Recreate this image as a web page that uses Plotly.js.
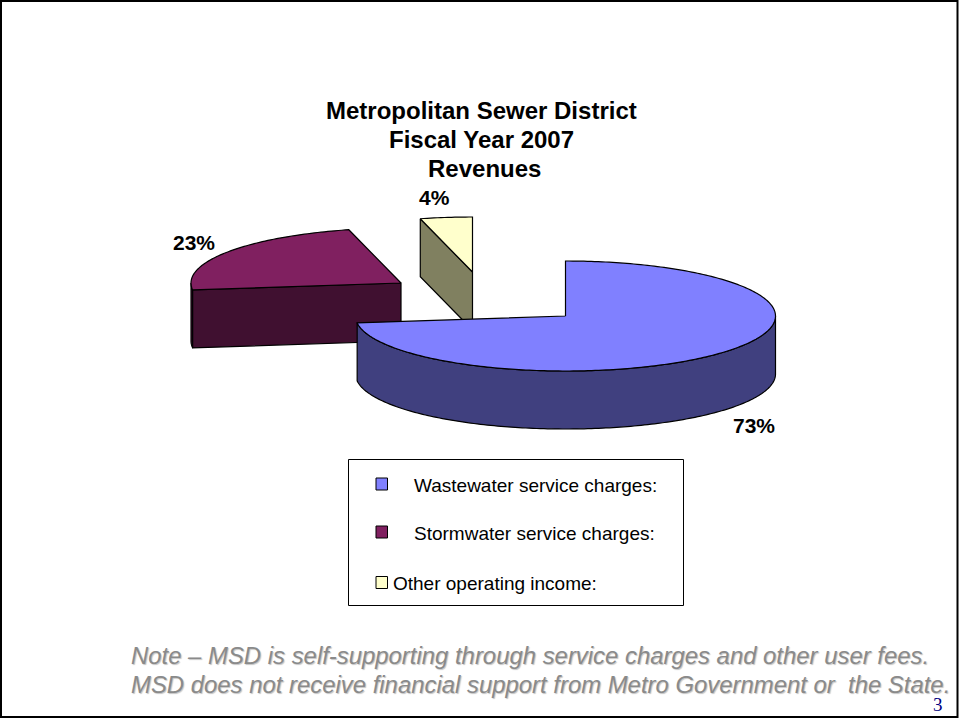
<!DOCTYPE html>
<html>
<head>
<meta charset="utf-8">
<script src="https://cdn.plot.ly/plotly-3.0.1.min.js"></script>
<style>html,body{margin:0;padding:0;background:#fff}#chart{width:959px;height:719px}</style>
</head>
<body>
<div id="chart"></div>
<script>
// Revenue shares, in percent
const categories = ['Wastewater service charges:', 'Stormwater service charges:', 'Other operating income:'];
const shares = [73, 23, 4];
const shareLabels = ['73%', '23%', '4%'];
const topColors = ['#8080FF', '#802060', '#FFFFCC'];
const sideColors = ['#40407F', '#401030', '#808060'];
const titleLines = ['Metropolitan Sewer District', 'Fiscal Year 2007', 'Revenues'];
const noteLines = [
  'Note \u2013 MSD is self-supporting through service charges and other user fees.',
  'MSD does not receive financial support from Metro Government or\u00A0 the State.'
];

// Projection of the tilted pie: ellipse radii, rim depth, and the pulled-out centre of each slice
const RX = 210, RY = 55, DEPTH = 58;
const centres = [[565.5, 316], [401, 283], [472.5, 272]];
const labelAt = [[754, 425], [194, 242], [434, 197]];
const FONT = '"Liberation Sans", Arial, sans-serif';

const total = shares.reduce((a, b) => a + b, 0);
let running = 0;
const spans = shares.map(v => { const s = running; running += v; return [s / total * 360, running / total * 360]; });

const point = (c, deg, dy) => {
  const r = deg * Math.PI / 180;
  return [c[0] + RX * Math.sin(r), c[1] - RY * Math.cos(r) + dy];
};
const arc = (c, from, to, dy) => {
  const out = [];
  const steps = Math.max(1, Math.ceil(Math.abs(to - from)));
  for (let i = 0; i <= steps; i++) out.push(point(c, from + (to - from) * i / steps, dy));
  return out;
};
const poly = (pts, color, name) => ({
  type: 'scatter', mode: 'lines', name,
  x: pts.map(p => p[0]), y: pts.map(p => p[1]),
  fill: 'toself', fillcolor: color,
  line: { color: '#000', width: 1.2, simplify: false },
  hoverinfo: 'name', showlegend: false
});

// Each slice: outer rim where it faces the viewer, the cut face, then the top
const sliceTraces = i => {
  const c = centres[i], [a0, a1] = spans[i], out = [];
  const f0 = Math.max(a0, 90), f1 = Math.min(a1, 270);
  if (f1 > f0) {
    out.push(poly([...arc(c, f0, f1, 0), ...arc(c, f1, f0, DEPTH)].concat([point(c, f0, 0)]), sideColors[i], categories[i]));
  }
  if (a0 > 180) {
    const s = point(c, a0, 0), e = point(c, a0, DEPTH);
    out.push(poly([s, c, [c[0], c[1] + DEPTH], e, s], sideColors[i], categories[i]));
  }
  out.push(poly([c, ...arc(c, a0, a1, 0), c], topColors[i], categories[i]));
  return out;
};
// Painted back to front
const traces = [1, 2, 0].flatMap(sliceTraces);

const text = (x, y, t, size, extra) => Object.assign({
  xref: 'x', yref: 'y', x, y, text: t, showarrow: false, xanchor: 'center', yanchor: 'middle',
  font: { family: FONT, size, color: '#000' }
}, extra || {});

const titleX = [481, 481, 484];
const titleY = [110, 139, 168];
const legendY = [485, 533, 583.5];
const legendX = [412, 412, 391];
const swatchX = 376;

const annotations = [
  ...titleLines.map((t, i) => text(titleX[i], titleY[i], '<b>' + t + '</b>', 24)),
  ...shareLabels.map((t, i) => text(labelAt[i][0], labelAt[i][1], '<b>' + t + '</b>', 21)),
  ...categories.map((t, i) => text(legendX[i], legendY[i], t, 19, { xanchor: 'left' })),
  ...noteLines.map((t, i) => text(128.5, 655.5 + i * 28.5, '<i>' + t + '</i>', 23.9, {
    xanchor: 'left',
    font: { family: FONT, size: 23.9, color: '#8a8a8a', shadow: '1px 1px 1px #c4c4c4' }
  })),
  text(938, 704.5, '3', 19, { font: { family: '"Liberation Serif", serif', size: 19, color: '#000080' } })
];

const shapes = [
  { type: 'rect', xref: 'x', yref: 'y', x0: 1, y0: 1, x1: 957.5, y1: 717, line: { color: '#000', width: 2 } },
  { type: 'rect', xref: 'x', yref: 'y', x0: 348.5, y0: 459.5, x1: 683.5, y1: 605.5, line: { color: '#000', width: 1 }, fillcolor: '#fff' },
  ...categories.map((_, i) => ({
    type: 'rect', xref: 'x', yref: 'y', x0: swatchX, x1: swatchX + 11.5, y0: legendY[i] - 7, y1: legendY[i] + 5,
    fillcolor: topColors[i], line: { color: '#000', width: 1 }
  }))
];

const layout = {
  width: 959, height: 719,
  margin: { l: 0, r: 0, t: 0, b: 0 },
  paper_bgcolor: '#fff', plot_bgcolor: '#fff',
  showlegend: false,
  xaxis: { range: [0, 959], visible: false, fixedrange: true },
  yaxis: { range: [719, 0], visible: false, fixedrange: true },
  annotations, shapes
};

Plotly.newPlot('chart', traces, layout, { displayModeBar: false, staticPlot: true });
</script>
</body>
</html>
